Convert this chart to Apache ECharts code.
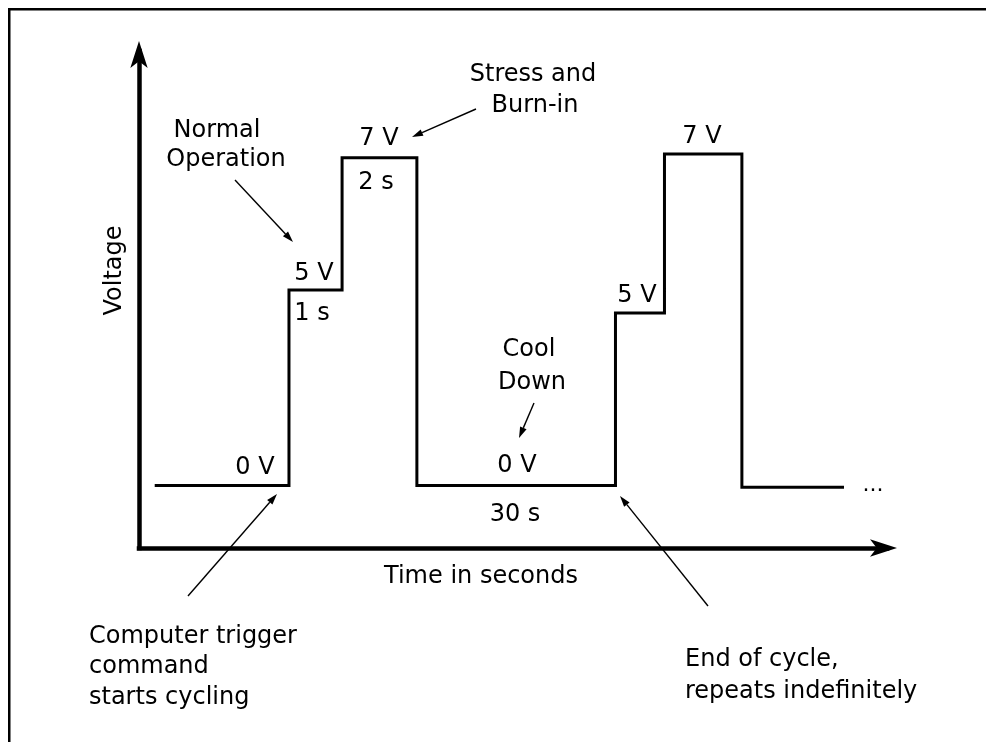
<!DOCTYPE html>
<html>
<head>
<meta charset="utf-8">
<title>Voltage cycling</title>
<script src="https://cdn.jsdelivr.net/npm/echarts@6/dist/echarts.min.js"></script>
<style>
html, body { margin: 0; padding: 0; background: #fff; }
#main { width: 986px; height: 742px; }
</style>
</head>
<body>
<div id="main"></div>
<script>
// schematic trace, not to scale: where each level starts on the time axis and its drawn height
var segStart = [2.1, 20.05, 27.15, 37.15, 63.7, 70.25, 80.6, 94.25];
var segLevel = [12.6, 51.9, 78.5, 12.6, 47.3, 79.3, 12.2, 12.2];
var voltLabels = ['0 V', '5 V', '7 V', '0 V', '5 V', '7 V'];
var timeLabels = ['1 s', '2 s', '30 s'];
var stressNote = ['Stress and', 'Burn-in'];
var normalNote = ['Normal', 'Operation'];
var coolNote = ['Cool', 'Down'];
var triggerNote = ['Computer trigger', 'command', 'starts cycling'];
var endNote = ['End of cycle,', 'repeats indefinitely'];

var FONT = '"DejaVu Sans", "Liberation Sans", sans-serif';

function txt(s, x, y, align, size) {
  return {
    type: 'text', x: x, y: y, silent: true, z: 10,
    style: {
      text: s, font: (size || 24) + 'px ' + FONT, fill: '#000',
      textAlign: align || 'center', textVerticalAlign: 'middle',
      align: align || 'center', verticalAlign: 'middle'
    }
  };
}

// thin annotation arrow with a small filled head at (x2, y2)
function arrow(x1, y1, x2, y2) {
  var a = Math.atan2(y2 - y1, x2 - x1);
  var c = Math.cos(a), s = Math.sin(a);
  var len = 11, w = 3.5;
  var bx = x2 - len * c, by = y2 - len * s;
  return [
    { type: 'line', silent: true, z: 10,
      shape: { x1: x1, y1: y1, x2: bx, y2: by },
      style: { stroke: '#000', lineWidth: 1.4 } },
    { type: 'polygon', silent: true, z: 10,
      shape: { points: [[x2, y2], [bx - w * s, by + w * c], [bx + w * s, by - w * c]] },
      style: { fill: '#000' } }
  ];
}

var graphics = [
  { type: 'line', silent: true, shape: { x1: 8, y1: 9.25, x2: 986, y2: 9.25 }, style: { stroke: '#000', lineWidth: 2.5 } },
  { type: 'line', silent: true, shape: { x1: 9.25, y1: 8, x2: 9.25, y2: 742 }, style: { stroke: '#000', lineWidth: 2.5 } },
  txt(stressNote[0], 533, 75),
  txt(stressNote[1], 535, 106),
  txt(normalNote[0], 217, 131),
  txt(normalNote[1], 226, 160),
  txt(voltLabels[0], 255, 468),
  txt(voltLabels[1], 314, 274),
  txt(voltLabels[2], 379, 139),
  txt(voltLabels[3], 517, 466),
  txt(voltLabels[4], 637, 296),
  txt(voltLabels[5], 702, 137),
  txt(timeLabels[0], 312, 314),
  txt(timeLabels[1], 376, 183),
  txt(timeLabels[2], 515, 515),
  txt(coolNote[0], 529, 350),
  txt(coolNote[1], 532, 383),
  txt('...', 873, 485, 'center', 22),
  txt(triggerNote[0], 89, 637, 'left'),
  txt(triggerNote[1], 89, 667, 'left'),
  txt(triggerNote[2], 89, 698, 'left'),
  txt(endNote[0], 685, 660, 'left'),
  txt(endNote[1], 685, 692, 'left')
]
  .concat(arrow(188, 596, 277, 494))
  .concat(arrow(708, 606, 620, 496))
  .concat(arrow(235, 180, 293, 242))
  .concat(arrow(476, 109, 412, 137))
  .concat(arrow(534, 403, 519, 438));

var axisLineStyle = {
  show: true,
  onZero: false,
  symbol: ['none', 'arrow'],
  symbolSize: [13, 27],
  symbolOffset: [0, 10],
  lineStyle: { color: '#000', width: 4.5, cap: 'square' }
};

var chart = echarts.init(document.getElementById('main'));
chart.setOption({
  animation: false,
  backgroundColor: '#fff',
  grid: { left: 139, right: 99, top: 51, bottom: 194 },
  xAxis: {
    type: 'value', min: 0, max: 100,
    axisLine: axisLineStyle,
    axisTick: { show: false },
    axisLabel: { show: false },
    splitLine: { show: false },
    name: 'Time in seconds',
    nameLocation: 'middle',
    nameGap: 17,
    nameTextStyle: { color: '#000', fontSize: 24, fontFamily: FONT, padding: [0, 64, 0, 0] }
  },
  yAxis: {
    type: 'value', min: 0, max: 100,
    axisLine: axisLineStyle,
    axisTick: { show: false },
    axisLabel: { show: false },
    splitLine: { show: false },
    name: 'Voltage',
    nameLocation: 'middle',
    nameRotate: 90,
    nameGap: 12,
    nameTextStyle: { color: '#000', fontSize: 24, fontFamily: FONT, padding: [0, 0, 0, 58] }
  },
  series: [{
    type: 'line',
    step: 'end',
    data: segStart.map(function (x, i) { return [x, segLevel[i]]; }),
    symbol: 'none',
    silent: true,
    clip: false,
    lineStyle: { color: '#000', width: 3, join: 'miter' }
  }],
  graphic: graphics
});
</script>
</body>
</html>
